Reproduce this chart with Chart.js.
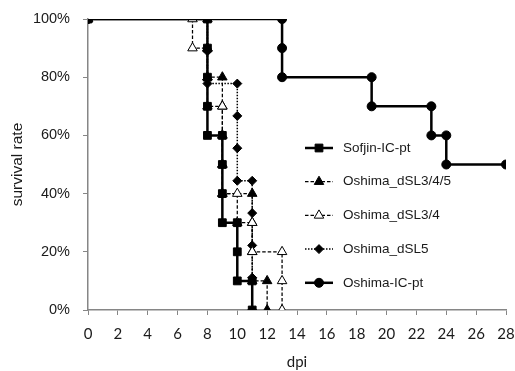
<!DOCTYPE html>
<html>
<head>
<meta charset="utf-8">
<script src="https://cdn.jsdelivr.net/npm/chart.js@4/dist/chart.umd.min.js"></script>
<style>
  html, body { margin: 0; padding: 0; background: #fff; }
</style>
</head>
<body>
<canvas id="grafica" width="515" height="371"></canvas>
<script>
// datos (dpi vs % de supervivencia)
const sofjinDias = [0, 8, 8, 8, 8, 8, 9, 9, 9, 9, 10, 10, 10, 11, 11];
const sofjinSuperv = [100, 100, 90, 80, 70, 60, 60, 50, 40, 30, 30, 20, 10, 10, 0];

const dsl345Dias = [0, 8, 8, 8, 9, 9, 9, 9, 9, 11, 11, 11, 11, 12, 12];
const dsl345Superv = [100, 100, 90, 80, 80, 70, 60, 50, 40, 40, 30, 20, 10, 10, 0];

const dsl34Dias = [0, 7, 7, 8, 8, 8, 9, 9, 9, 9, 10, 10, 11, 11, 13, 13, 13];
const dsl34Superv = [100, 100, 90, 90, 80, 70, 70, 60, 50, 40, 40, 30, 30, 20, 20, 10, 0];

const dsl5Dias = [0, 8, 8, 8, 10, 10, 10, 10, 11, 11, 11, 11, 11];
const dsl5Superv = [100, 100, 88.9, 77.8, 77.8, 66.7, 55.6, 44.4, 44.4, 33.3, 22.2, 11.1, 0];

const oshimaDias = [0, 13, 13, 13, 19, 19, 23, 23, 24, 24, 28];
const oshimaSuperv = [100, 100, 90, 80, 80, 70, 70, 60, 60, 50, 50];

const etiquetas = ['Sofjin-IC-pt', 'Oshima_dSL3/4/5', 'Oshima_dSL3/4', 'Oshima_dSL5', 'Oshima-IC-pt'];
const diasTicks = [0, 2, 4, 6, 8, 10, 12, 14, 16, 18, 20, 22, 24, 26, 28];
const supervTicks = [0, 20, 40, 60, 80, 100];

const GRIS = '#868686';
const TEXTO = '#1a1a1a';

function puntos(xs, ys) {
    return xs.map((x, i) => ({ x: x, y: ys[i] }));
}

// leyenda dibujada dentro del área del gráfico
const leyendaPlugin = {
    id: 'leyendaInterna',
    afterDraw(chart) {
        const ctx = chart.ctx;
        const x0 = 305, x1 = 333, xm = 319, xt = 343;
        const y0 = 148, paso = 33.7;
        chart.data.datasets.forEach((ds, i) => {
            const y = y0 + i * paso;
            ctx.save();
            ctx.strokeStyle = ds.borderColor;
            ctx.lineWidth = ds.borderWidth;
            ctx.setLineDash(ds.borderDash || []);
            ctx.beginPath();
            ctx.moveTo(x0, y);
            ctx.lineTo(x1, y);
            ctx.stroke();
            ctx.setLineDash([]);
            ctx.fillStyle = ds.pointBackgroundColor;
            ctx.strokeStyle = ds.pointBorderColor;
            ctx.lineWidth = ds.pointBorderWidth;
            Chart.helpers.drawPoint(ctx, {
                pointStyle: ds.pointStyle,
                radius: ds.pointRadius,
                rotation: 0,
                borderWidth: ds.pointBorderWidth
            }, xm, y);
            ctx.fillStyle = TEXTO;
            ctx.font = '13.5px "Liberation Sans", Arial, sans-serif';
            ctx.textBaseline = 'middle';
            ctx.textAlign = 'left';
            ctx.fillText(ds.label, xt, y);
            ctx.restore();
        });
    }
};

const ctx = document.getElementById('grafica').getContext('2d');

new Chart(ctx, {
    type: 'scatter',
    data: {
        datasets: [
            {
                label: etiquetas[0],
                data: puntos(sofjinDias, sofjinSuperv),
                showLine: true,
                borderColor: '#000',
                borderWidth: 2.5,
                pointStyle: 'rect',
                pointRadius: 5.5,
                pointBackgroundColor: '#000',
                pointBorderColor: '#000',
                pointBorderWidth: 1,
                order: 0
            },
            {
                label: etiquetas[1],
                data: puntos(dsl345Dias, dsl345Superv),
                showLine: true,
                borderColor: '#000',
                borderWidth: 1.25,
                borderDash: [3.5, 2],
                pointStyle: 'triangle',
                pointRadius: 5.5,
                pointBackgroundColor: '#000',
                pointBorderColor: '#000',
                pointBorderWidth: 1,
                order: 2
            },
            {
                label: etiquetas[2],
                data: puntos(dsl34Dias, dsl34Superv),
                showLine: true,
                borderColor: '#000',
                borderWidth: 1.25,
                borderDash: [3.5, 2],
                pointStyle: 'triangle',
                pointRadius: 5.5,
                pointBackgroundColor: '#fff',
                pointBorderColor: '#000',
                pointBorderWidth: 1,
                order: 1
            },
            {
                label: etiquetas[3],
                data: puntos(dsl5Dias, dsl5Superv),
                showLine: true,
                borderColor: '#000',
                borderWidth: 1.5,
                borderDash: [1.5, 1.5],
                pointStyle: 'rectRot',
                pointRadius: 4.5,
                pointBackgroundColor: '#000',
                pointBorderColor: '#000',
                pointBorderWidth: 1,
                order: 3
            },
            {
                label: etiquetas[4],
                data: puntos(oshimaDias, oshimaSuperv),
                showLine: true,
                borderColor: '#000',
                borderWidth: 2.5,
                pointStyle: 'circle',
                pointRadius: 4.5,
                pointBackgroundColor: '#000',
                pointBorderColor: '#000',
                pointBorderWidth: 1,
                order: 4
            }
        ]
    },
    options: {
        responsive: false,
        animation: false,
        layout: { padding: { top: 19, right: 9, left: 0, bottom: 0 } },
        plugins: {
            legend: { display: false },
            tooltip: { enabled: false }
        },
        elements: { line: { tension: 0 } },
        scales: {
            x: {
                type: 'linear',
                min: 0,
                max: 28,
                afterBuildTicks(scale) {
                    scale.ticks = diasTicks.map(v => ({ value: v }));
                },
                ticks: {
                    color: TEXTO,
                    font: { family: 'Lato', size: 15 },
                    padding: 10,
                    maxRotation: 0,
                    autoSkip: false
                },
                grid: { display: true, drawOnChartArea: false, tickLength: 5, color: GRIS, lineWidth: 1 },
                border: { color: GRIS, width: 1.5 },
                title: {
                    display: true,
                    text: 'dpi',
                    color: TEXTO,
                    font: { family: 'Lato', size: 15 },
                    padding: { top: 0, bottom: 0 }
                },
                afterFit(scale) {
                    scale.height = 61;
                    scale.paddingLeft = 0;
                    scale.paddingRight = 0;
                }
            },
            y: {
                min: 0,
                max: 100,
                afterBuildTicks(scale) {
                    scale.ticks = supervTicks.map(v => ({ value: v }));
                },
                ticks: {
                    color: TEXTO,
                    font: { family: '"Liberation Sans", Arial, sans-serif', size: 14.5 },
                    padding: 13,
                    callback: v => v + '%'
                },
                grid: { display: true, drawOnChartArea: false, tickLength: 5, color: GRIS, lineWidth: 1 },
                border: { color: GRIS, width: 1.5 },
                title: {
                    display: true,
                    text: 'survival rate',
                    color: TEXTO,
                    font: { family: '"Liberation Sans", Arial, sans-serif', size: 15.5 },
                    padding: { top: 8, bottom: 0 }
                },
                afterFit(scale) {
                    scale.width = 88;
                    scale.paddingTop = 0;
                    scale.paddingBottom = 0;
                }
            }
        }
    },
    plugins: [leyendaPlugin]
});
</script>
</body>
</html>
